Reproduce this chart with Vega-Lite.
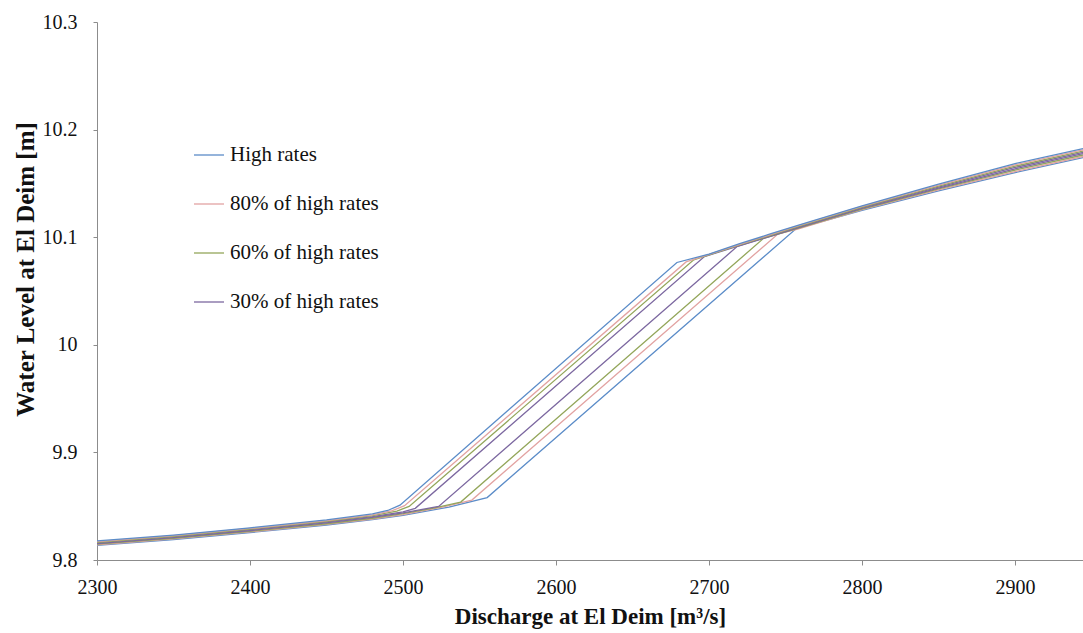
{
  "$schema": "https://vega.github.io/schema/vega-lite/v6.json",
  "width": 986,
  "height": 538,
  "autosize": {"type": "none"},
  "padding": {"left": 97, "top": 22, "right": 0, "bottom": 73},
  "background": "white",
  "config": {
    "view": {"stroke": null},
    "font": "Liberation Serif",
    "axis": {"grid": false, "domainColor": "#8c8c8c", "tickColor": "#8c8c8c", "labelColor": "#111", "titleColor": "#111", "labelFont": "Liberation Serif", "titleFont": "Liberation Serif", "labelFontSize": 20, "titleFontWeight": "bold", "labelFlush": false}
  },
  "data": {
    "values": [
      {"series": "High rates", "limb": "rising", "q": 2300, "h": 9.8135},
      {"series": "High rates", "limb": "rising", "q": 2350, "h": 9.819},
      {"series": "High rates", "limb": "rising", "q": 2400, "h": 9.8255},
      {"series": "High rates", "limb": "rising", "q": 2450, "h": 9.8325},
      {"series": "High rates", "limb": "rising", "q": 2480, "h": 9.8375},
      {"series": "High rates", "limb": "rising", "q": 2500, "h": 9.8415},
      {"series": "High rates", "limb": "rising", "q": 2530, "h": 9.8492},
      {"series": "High rates", "limb": "rising", "q": 2555, "h": 9.858},
      {"series": "High rates", "limb": "rising", "q": 2757, "h": 10.108},
      {"series": "High rates", "limb": "rising", "q": 2800, "h": 10.125},
      {"series": "High rates", "limb": "rising", "q": 2850, "h": 10.143},
      {"series": "High rates", "limb": "rising", "q": 2900, "h": 10.160},
      {"series": "High rates", "limb": "rising", "q": 2944.4, "h": 10.174},

      {"series": "80% of high rates", "limb": "rising", "q": 2300, "h": 9.8141},
      {"series": "80% of high rates", "limb": "rising", "q": 2350, "h": 9.8196},
      {"series": "80% of high rates", "limb": "rising", "q": 2400, "h": 9.8261},
      {"series": "80% of high rates", "limb": "rising", "q": 2450, "h": 9.8331},
      {"series": "80% of high rates", "limb": "rising", "q": 2480, "h": 9.8381},
      {"series": "80% of high rates", "limb": "rising", "q": 2500, "h": 9.8422},
      {"series": "80% of high rates", "limb": "rising", "q": 2525, "h": 9.849},
      {"series": "80% of high rates", "limb": "rising", "q": 2545, "h": 9.8557},
      {"series": "80% of high rates", "limb": "rising", "q": 2745, "h": 10.103},
      {"series": "80% of high rates", "limb": "rising", "q": 2758, "h": 10.1075},
      {"series": "80% of high rates", "limb": "rising", "q": 2800, "h": 10.1256},
      {"series": "80% of high rates", "limb": "rising", "q": 2850, "h": 10.144},
      {"series": "80% of high rates", "limb": "rising", "q": 2900, "h": 10.161},
      {"series": "80% of high rates", "limb": "rising", "q": 2944.4, "h": 10.175},

      {"series": "60% of high rates", "limb": "rising", "q": 2300, "h": 9.8147},
      {"series": "60% of high rates", "limb": "rising", "q": 2350, "h": 9.8202},
      {"series": "60% of high rates", "limb": "rising", "q": 2400, "h": 9.8267},
      {"series": "60% of high rates", "limb": "rising", "q": 2450, "h": 9.8337},
      {"series": "60% of high rates", "limb": "rising", "q": 2480, "h": 9.8388},
      {"series": "60% of high rates", "limb": "rising", "q": 2500, "h": 9.843},
      {"series": "60% of high rates", "limb": "rising", "q": 2520, "h": 9.8483},
      {"series": "60% of high rates", "limb": "rising", "q": 2537.7, "h": 9.8538},
      {"series": "60% of high rates", "limb": "rising", "q": 2735.7, "h": 10.099},
      {"series": "60% of high rates", "limb": "rising", "q": 2758, "h": 10.1081},
      {"series": "60% of high rates", "limb": "rising", "q": 2800, "h": 10.1262},
      {"series": "60% of high rates", "limb": "rising", "q": 2850, "h": 10.1448},
      {"series": "60% of high rates", "limb": "rising", "q": 2900, "h": 10.1624},
      {"series": "60% of high rates", "limb": "rising", "q": 2944.4, "h": 10.1764},

      {"series": "30% of high rates", "limb": "rising", "q": 2300, "h": 9.8153},
      {"series": "30% of high rates", "limb": "rising", "q": 2350, "h": 9.8208},
      {"series": "30% of high rates", "limb": "rising", "q": 2400, "h": 9.8273},
      {"series": "30% of high rates", "limb": "rising", "q": 2450, "h": 9.8345},
      {"series": "30% of high rates", "limb": "rising", "q": 2480, "h": 9.8396},
      {"series": "30% of high rates", "limb": "rising", "q": 2500, "h": 9.8438},
      {"series": "30% of high rates", "limb": "rising", "q": 2523.3, "h": 9.8498},
      {"series": "30% of high rates", "limb": "rising", "q": 2718.5, "h": 10.0915},
      {"series": "30% of high rates", "limb": "rising", "q": 2740, "h": 10.1008},
      {"series": "30% of high rates", "limb": "rising", "q": 2758, "h": 10.1087},
      {"series": "30% of high rates", "limb": "rising", "q": 2800, "h": 10.1268},
      {"series": "30% of high rates", "limb": "rising", "q": 2850, "h": 10.1457},
      {"series": "30% of high rates", "limb": "rising", "q": 2900, "h": 10.1636},
      {"series": "30% of high rates", "limb": "rising", "q": 2944.4, "h": 10.1776},

      {"series": "30% of high rates", "limb": "falling", "q": 2300, "h": 9.8159},
      {"series": "30% of high rates", "limb": "falling", "q": 2350, "h": 9.8214},
      {"series": "30% of high rates", "limb": "falling", "q": 2400, "h": 9.8281},
      {"series": "30% of high rates", "limb": "falling", "q": 2450, "h": 9.8353},
      {"series": "30% of high rates", "limb": "falling", "q": 2480, "h": 9.8404},
      {"series": "30% of high rates", "limb": "falling", "q": 2500, "h": 9.8447},
      {"series": "30% of high rates", "limb": "falling", "q": 2508, "h": 9.848},
      {"series": "30% of high rates", "limb": "falling", "q": 2697, "h": 10.082},
      {"series": "30% of high rates", "limb": "falling", "q": 2720, "h": 10.0922},
      {"series": "30% of high rates", "limb": "falling", "q": 2740, "h": 10.1012},
      {"series": "30% of high rates", "limb": "falling", "q": 2758, "h": 10.1093},
      {"series": "30% of high rates", "limb": "falling", "q": 2800, "h": 10.1274},
      {"series": "30% of high rates", "limb": "falling", "q": 2850, "h": 10.1466},
      {"series": "30% of high rates", "limb": "falling", "q": 2900, "h": 10.1648},
      {"series": "30% of high rates", "limb": "falling", "q": 2944.4, "h": 10.1788},

      {"series": "60% of high rates", "limb": "falling", "q": 2300, "h": 9.8165},
      {"series": "60% of high rates", "limb": "falling", "q": 2350, "h": 9.822},
      {"series": "60% of high rates", "limb": "falling", "q": 2400, "h": 9.8287},
      {"series": "60% of high rates", "limb": "falling", "q": 2450, "h": 9.836},
      {"series": "60% of high rates", "limb": "falling", "q": 2480, "h": 9.8412},
      {"series": "60% of high rates", "limb": "falling", "q": 2496, "h": 9.8455},
      {"series": "60% of high rates", "limb": "falling", "q": 2504, "h": 9.8498},
      {"series": "60% of high rates", "limb": "falling", "q": 2690, "h": 10.079},
      {"series": "60% of high rates", "limb": "falling", "q": 2720, "h": 10.0928},
      {"series": "60% of high rates", "limb": "falling", "q": 2740, "h": 10.1018},
      {"series": "60% of high rates", "limb": "falling", "q": 2758, "h": 10.1099},
      {"series": "60% of high rates", "limb": "falling", "q": 2800, "h": 10.128},
      {"series": "60% of high rates", "limb": "falling", "q": 2850, "h": 10.1475},
      {"series": "60% of high rates", "limb": "falling", "q": 2900, "h": 10.166},
      {"series": "60% of high rates", "limb": "falling", "q": 2944.4, "h": 10.180},

      {"series": "80% of high rates", "limb": "falling", "q": 2300, "h": 9.8171},
      {"series": "80% of high rates", "limb": "falling", "q": 2350, "h": 9.8226},
      {"series": "80% of high rates", "limb": "falling", "q": 2400, "h": 9.8293},
      {"series": "80% of high rates", "limb": "falling", "q": 2450, "h": 9.8366},
      {"series": "80% of high rates", "limb": "falling", "q": 2480, "h": 9.842},
      {"series": "80% of high rates", "limb": "falling", "q": 2493, "h": 9.8458},
      {"series": "80% of high rates", "limb": "falling", "q": 2501, "h": 9.8505},
      {"series": "80% of high rates", "limb": "falling", "q": 2685, "h": 10.077},
      {"series": "80% of high rates", "limb": "falling", "q": 2720, "h": 10.0934},
      {"series": "80% of high rates", "limb": "falling", "q": 2740, "h": 10.1024},
      {"series": "80% of high rates", "limb": "falling", "q": 2758, "h": 10.1105},
      {"series": "80% of high rates", "limb": "falling", "q": 2800, "h": 10.1286},
      {"series": "80% of high rates", "limb": "falling", "q": 2850, "h": 10.1484},
      {"series": "80% of high rates", "limb": "falling", "q": 2900, "h": 10.1672},
      {"series": "80% of high rates", "limb": "falling", "q": 2944.4, "h": 10.1812},

      {"series": "High rates", "limb": "falling", "q": 2300, "h": 9.8177},
      {"series": "High rates", "limb": "falling", "q": 2350, "h": 9.8232},
      {"series": "High rates", "limb": "falling", "q": 2400, "h": 9.8299},
      {"series": "High rates", "limb": "falling", "q": 2450, "h": 9.8373},
      {"series": "High rates", "limb": "falling", "q": 2480, "h": 9.8428},
      {"series": "High rates", "limb": "falling", "q": 2490, "h": 9.846},
      {"series": "High rates", "limb": "falling", "q": 2498, "h": 9.851},
      {"series": "High rates", "limb": "falling", "q": 2679, "h": 10.0765},
      {"series": "High rates", "limb": "falling", "q": 2700, "h": 10.0843},
      {"series": "High rates", "limb": "falling", "q": 2720, "h": 10.094},
      {"series": "High rates", "limb": "falling", "q": 2740, "h": 10.103},
      {"series": "High rates", "limb": "falling", "q": 2758, "h": 10.1111},
      {"series": "High rates", "limb": "falling", "q": 2800, "h": 10.1292},
      {"series": "High rates", "limb": "falling", "q": 2850, "h": 10.1493},
      {"series": "High rates", "limb": "falling", "q": 2900, "h": 10.1684},
      {"series": "High rates", "limb": "falling", "q": 2944.4, "h": 10.1824}
    ]
  },
  "mark": {"type": "line", "strokeWidth": 1.3, "clip": true},
  "encoding": {
    "x": {
      "field": "q", "type": "quantitative",
      "scale": {"domain": [2300, 2944.4], "nice": false, "zero": false},
      "axis": {"values": [2300, 2400, 2500, 2600, 2700, 2800, 2900], "format": "d", "tickSize": 5, "labelPadding": 12, "title": "Discharge at El Deim [m³/s]", "titleFontSize": 23, "titlePadding": 8}
    },
    "y": {
      "field": "h", "type": "quantitative",
      "scale": {"domain": [9.8, 10.3], "nice": false, "zero": false},
      "axis": {"values": [9.8, 9.9, 10, 10.1, 10.2, 10.3], "format": "~g", "tickSize": 4, "labelPadding": 16, "title": "Water Level at El Deim [m]", "titleFontSize": 25, "titlePadding": 4, "titleY": 247}
    },
    "color": {
      "field": "series", "type": "nominal",
      "scale": {"domain": ["High rates", "80% of high rates", "60% of high rates", "30% of high rates"], "range": ["#5b8cc8", "#e2a3a2", "#93a65a", "#7c68a0"]},
      "legend": {"title": null, "orient": "none", "legendX": 96, "legendY": 117, "symbolType": "stroke", "symbolSize": 900, "symbolStrokeWidth": 1.3, "labelFontSize": 21, "labelFont": "Liberation Serif", "labelColor": "#111", "labelOffset": 5, "rowPadding": 23, "padding": 0}
    },
    "detail": {"field": "limb", "type": "nominal"}
  }
}
